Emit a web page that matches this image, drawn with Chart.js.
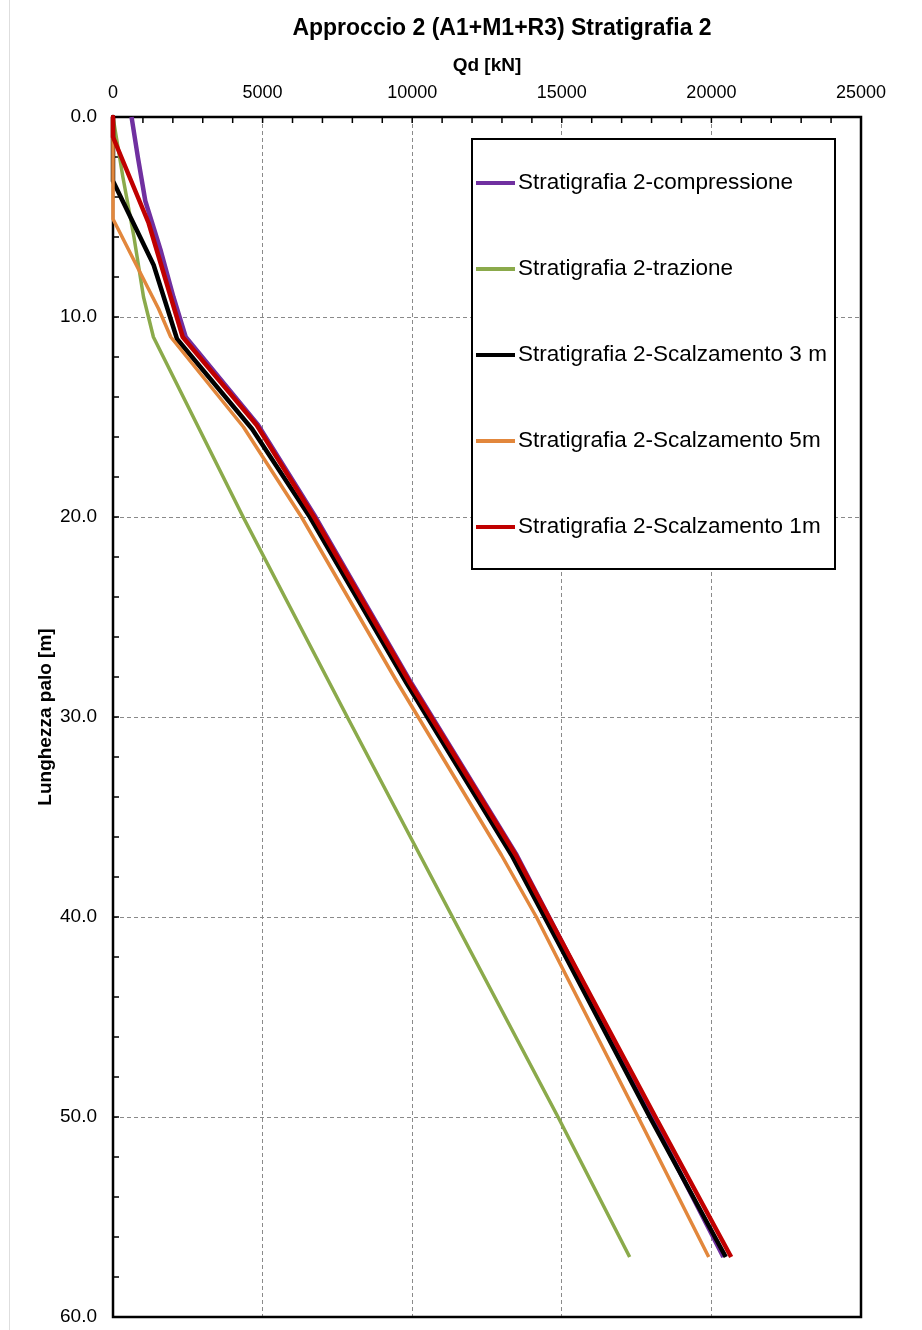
<!DOCTYPE html>
<html>
<head>
<meta charset="utf-8">
<script src="https://cdn.jsdelivr.net/npm/chart.js@4.4.1/dist/chart.umd.min.js"></script>
<style>
  html, body { margin: 0; padding: 0; background: #fff; }
  #wrap { position: relative; width: 922px; height: 1330px; }
  #edge { position: absolute; left: 9px; top: 0; width: 1px; height: 1330px; background: #dedede; }
  #chart { position: absolute; left: 0; top: 0; }
</style>
</head>
<body>
<div id="wrap">
  <div id="edge"></div>
  <canvas id="chart" width="922" height="1330"></canvas>
</div>
<script>
const TITLE = 'Approccio 2 (A1+M1+R3) Stratigrafia 2';
const X_TITLE = 'Qd [kN]';
const Y_TITLE = 'Lunghezza palo [m]';

const X_MAX = 25000, X_STEP = 5000, X_MINOR = 1000;
const Y_MAX = 60, Y_STEP = 10, Y_MINOR = 2;

const seriesNames = [
  'Stratigrafia 2-compressione',
  'Stratigrafia 2-trazione',
  'Stratigrafia 2-Scalzamento 3 m',
  'Stratigrafia 2-Scalzamento 5m',
  'Stratigrafia 2-Scalzamento 1m'
];
const seriesColors = ['#7030A0', '#8BAA4B', '#000000', '#E2873C', '#C00000'];
const seriesWidths = [4.5, 3.5, 4.5, 3.5, 4.5];

// profondità [m] e Qd [kN]
const depthCompr = [0, 2, 4.2, 6.7, 9, 11, 15.4, 20, 28.3, 36.9, 41.2, 50, 57];
const qdCompr    = [620, 830, 1080, 1600, 2020, 2430, 4850, 6770, 9970, 13490, 14990, 18000, 20400];

const depthTraz = [0, 3, 6, 9, 11, 20, 30, 40, 50, 57];
const qdTraz    = [0, 330, 700, 1020, 1350, 4350, 7830, 11346, 14874, 17268];

const depthSc3 = [0, 3.2, 7.4, 11.1, 15.6, 20, 28.3, 36.9, 41.2, 50, 57];
const qdSc3    = [0, 0, 1358, 2140, 4650, 6580, 9810, 13320, 14850, 17940, 20480];

const depthSc5 = [0, 5.1, 9.6, 11, 15.5, 20, 28.2, 36.9, 40, 50, 57];
const qdSc5    = [0, 0, 1526, 1930, 4360, 6300, 9475, 12980, 14150, 17550, 19910];

const depthSc1 = [0, 1.0, 5.3, 11, 15.4, 20, 28.3, 36.9, 41.2, 50, 57];
const qdSc1    = [0, 0, 1190, 2330, 4800, 6720, 9930, 13460, 14990, 18130, 20660];

const depths = [depthCompr, depthTraz, depthSc3, depthSc5, depthSc1];
const qds = [qdCompr, qdTraz, qdSc3, qdSc5, qdSc1];

const datasets = seriesNames.map((name, i) => ({
  label: name,
  data: depths[i].map((d, k) => ({ x: qds[i][k], y: d })),
  borderColor: seriesColors[i],
  backgroundColor: seriesColors[i],
  borderWidth: seriesWidths[i],
  borderJoinStyle: 'round',
  pointRadius: 0,
  tension: 0,
  showLine: true,
  clip: false,
  order: seriesNames.length - i   // ultima serie sopra
}));

// bordo area grafico + tacche secondarie verso l'interno
const frame = {
  id: 'frame',
  beforeDatasetsDraw(chart) {
    const { ctx, chartArea: a, scales: { x, y } } = chart;
    ctx.save();
    ctx.strokeStyle = '#000';
    ctx.lineWidth = 1.5;
    ctx.beginPath();
    for (let v = 0; v <= X_MAX; v += X_MINOR) {
      const px = x.getPixelForValue(v);
      ctx.moveTo(px, a.top); ctx.lineTo(px, a.top + 6);
    }
    for (let v = 0; v <= Y_MAX; v += Y_MINOR) {
      const py = y.getPixelForValue(v);
      ctx.moveTo(a.left, py); ctx.lineTo(a.left + 6, py);
    }
    ctx.stroke();
    ctx.lineWidth = 2.5;
    ctx.strokeRect(a.left, a.top, a.right - a.left, a.bottom - a.top);
    ctx.restore();
  }
};

// titolo principale (spostato a destra come nell'originale)
const mainTitle = {
  id: 'mainTitle',
  afterDraw(chart) {
    const { ctx } = chart;
    ctx.save();
    ctx.font = 'bold 23px "Liberation Sans", Arial, sans-serif';
    ctx.fillStyle = '#000';
    ctx.textAlign = 'center';
    ctx.textBaseline = 'middle';
    ctx.fillText(TITLE, 502, 29);
    ctx.restore();
  }
};

// legenda in riquadro dentro l'area del grafico
const boxLegend = {
  id: 'boxLegend',
  afterDraw(chart) {
    const { ctx, chartArea: a } = chart;
    const bx = a.left + 359, by = a.top + 22, bw = 363, bh = 430;
    ctx.save();
    ctx.fillStyle = '#fff';
    ctx.fillRect(bx, by, bw, bh);
    ctx.strokeStyle = '#000';
    ctx.lineWidth = 2;
    ctx.strokeRect(bx, by, bw, bh);
    ctx.font = '22.5px "Liberation Sans", Arial, sans-serif';
    ctx.textBaseline = 'middle';
    chart.data.datasets.forEach((ds, i) => {
      const ly = by + 44 + i * 86;
      ctx.strokeStyle = ds.borderColor;
      ctx.lineWidth = 4;
      ctx.beginPath();
      ctx.moveTo(bx + 4, ly); ctx.lineTo(bx + 43, ly);
      ctx.stroke();
      ctx.fillStyle = '#000';
      ctx.fillText(ds.label, bx + 46, ly);
    });
    ctx.restore();
  }
};

new Chart(document.getElementById('chart'), {
  type: 'scatter',
  data: { datasets },
  options: {
    responsive: false,
    animation: false,
    layout: { padding: { top: 0, left: 0, right: 61, bottom: 13 } },
    plugins: { legend: { display: false }, tooltip: { enabled: false }, title: { display: false } },
    scales: {
      x: {
        type: 'linear',
        position: 'top',
        min: 0, max: X_MAX,
        afterFit: s => { s.height = 117; s.paddingLeft = 0; s.paddingRight = 0; },
        ticks: {
          stepSize: X_STEP,
          padding: 13,
          color: '#000',
          font: { family: '"Liberation Sans", Arial, sans-serif', size: 18 },
          callback: v => String(v)
        },
        grid: { color: '#8a8a8a', lineWidth: 1, drawTicks: false },
        border: { display: false, dash: [4, 3] },
        title: {
          display: true, text: X_TITLE, color: '#000',
          font: { family: '"Liberation Sans", Arial, sans-serif', size: 19, weight: 'bold' },
          padding: { top: 54.6, bottom: 0 }
        }
      },
      y: {
        type: 'linear',
        reverse: true,
        min: 0, max: Y_MAX,
        afterFit: s => { s.width = 113; s.paddingTop = 0; s.paddingBottom = 0; },
        ticks: {
          stepSize: Y_STEP,
          padding: 16,
          color: '#000',
          font: { family: '"Liberation Sans", Arial, sans-serif', size: 19 },
          callback: v => Number(v).toFixed(1)
        },
        grid: { color: '#8a8a8a', lineWidth: 1, drawTicks: false },
        border: { display: false, dash: [4, 3] },
        title: {
          display: true, text: Y_TITLE, color: '#000',
          font: { family: '"Liberation Sans", Arial, sans-serif', size: 19, weight: 'bold' },
          padding: { top: 34, bottom: 0 }
        }
      }
    }
  },
  plugins: [frame, mainTitle, boxLegend]
});
</script>
</body>
</html>
